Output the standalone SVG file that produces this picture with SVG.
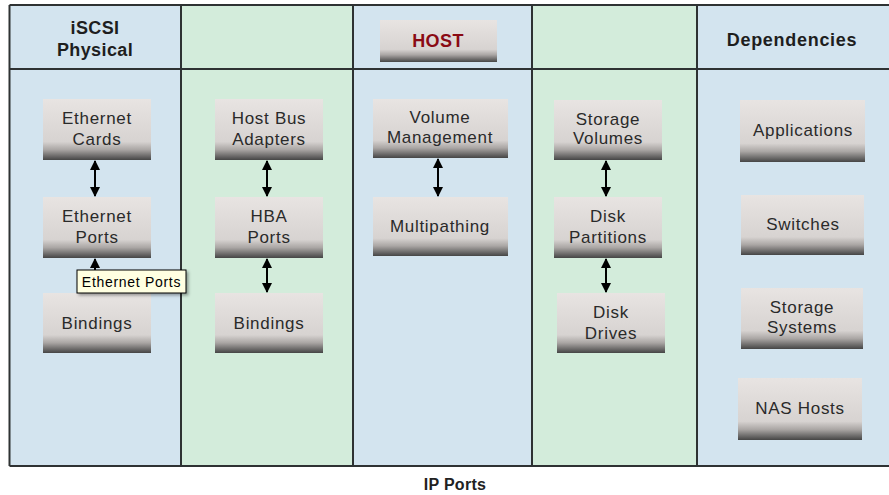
<svg xmlns="http://www.w3.org/2000/svg" width="889" height="495" viewBox="0 0 889 495">
<defs>
<linearGradient id="btn" x1="0" y1="0" x2="0" y2="1">
<stop offset="0" stop-color="#e8e4e2"/>
<stop offset="0.7" stop-color="#d7d3d1"/>
<stop offset="0.83" stop-color="#aaa6a4"/>
<stop offset="1" stop-color="#454545"/>
</linearGradient>
<marker id="ah" viewBox="0 0 10 10" refX="9" refY="5" markerWidth="10" markerHeight="10" markerUnits="userSpaceOnUse" orient="auto-start-reverse">
<path d="M0,0 L10,5 L0,10 z" fill="#000"/>
</marker>
<filter id="sh" x="-10%" y="-10%" width="130%" height="150%">
<feDropShadow dx="2" dy="2" stdDeviation="1.5" flood-color="#000" flood-opacity="0.35"/>
</filter>
</defs>
<style>
.blue{fill:#d3e4ef}
.green{fill:#d3ecdb}
.grid{stroke:#2e3233;stroke-width:2;fill:none}
.box{fill:url(#btn)}
.t{font-family:"Liberation Sans",Arial,sans-serif;font-size:17px;letter-spacing:0.7px;fill:#2a2a2a;text-anchor:middle}
.h{font-family:"Liberation Sans",Arial,sans-serif;font-size:18px;font-weight:bold;letter-spacing:0.4px;fill:#1e1e1e;text-anchor:middle}
.conn{stroke:#000;stroke-width:2;fill:none;marker-start:url(#ah);marker-end:url(#ah)}
</style>
<rect width="889" height="495" fill="#ffffff"/>
<g id="table">
<rect class="blue" x="9.5" y="5" width="171.5" height="461"/>
<rect class="green" x="181" y="5" width="172" height="461"/>
<rect class="blue" x="353" y="5" width="179" height="461"/>
<rect class="green" x="532" y="5" width="165" height="461"/>
<rect class="blue" x="697" y="5" width="192" height="461"/>
<path class="grid" d="M9.5,5 H889 M9.5,69 H889 M9.5,466 H889 M9.5,5 V466 M181,5 V466 M353,5 V466 M532,5 V466 M697,5 V466"/>
</g>
<g id="hdr-iscsi">
<text class="h" x="95" y="34">iSCSI</text>
<text class="h" x="95" y="56">Physical</text>
</g>
<g id="hdr-host">
<rect class="box" x="380" y="20" width="117" height="42"/>
<text class="h" x="438" y="47" style="fill:#8a0a14">HOST</text>
</g>
<g id="hdr-dependencies">
<text class="h" x="792" y="46" style="letter-spacing:0.7px">Dependencies</text>
</g>
<g id="ethernet-cards"><rect class="box" x="43" y="99" width="108" height="61"/><text class="t" x="97" y="124">Ethernet</text><text class="t" x="97" y="145">Cards</text></g>
<g id="ethernet-ports"><rect class="box" x="43" y="197" width="108" height="61"/><text class="t" x="97" y="222">Ethernet</text><text class="t" x="97" y="243">Ports</text></g>
<g id="bindings-1"><rect class="box" x="43" y="293" width="108" height="60"/><text class="t" x="97" y="329">Bindings</text></g>
<g id="host-bus-adapters"><rect class="box" x="215" y="99" width="108" height="61"/><text class="t" x="269" y="124">Host Bus</text><text class="t" x="269" y="145">Adapters</text></g>
<g id="hba-ports"><rect class="box" x="215" y="197" width="108" height="61"/><text class="t" x="269" y="222">HBA</text><text class="t" x="269" y="243">Ports</text></g>
<g id="bindings-2"><rect class="box" x="215" y="293" width="108" height="60"/><text class="t" x="269" y="329">Bindings</text></g>
<g id="volume-management"><rect class="box" x="373" y="99" width="135" height="59"/><text class="t" x="440" y="123">Volume</text><text class="t" x="440" y="143">Management</text></g>
<g id="multipathing"><rect class="box" x="373" y="197" width="135" height="59"/><text class="t" x="440" y="232">Multipathing</text></g>
<g id="storage-volumes"><rect class="box" x="554" y="100" width="108" height="60"/><text class="t" x="608" y="125">Storage</text><text class="t" x="608" y="144">Volumes</text></g>
<g id="disk-partitions"><rect class="box" x="554" y="197" width="108" height="61"/><text class="t" x="608" y="222">Disk</text><text class="t" x="608" y="243">Partitions</text></g>
<g id="disk-drives"><rect class="box" x="557" y="293" width="108" height="60"/><text class="t" x="611" y="318">Disk</text><text class="t" x="611" y="339">Drives</text></g>
<g id="applications"><rect class="box" x="740" y="100" width="125" height="62"/><text class="t" x="803" y="136">Applications</text></g>
<g id="switches"><rect class="box" x="741" y="195" width="123" height="60"/><text class="t" x="803" y="230">Switches</text></g>
<g id="storage-systems"><rect class="box" x="741" y="288" width="122" height="61"/><text class="t" x="802" y="313">Storage</text><text class="t" x="802" y="333">Systems</text></g>
<g id="nas-hosts"><rect class="box" x="738" y="378" width="124" height="62"/><text class="t" x="800" y="414">NAS Hosts</text></g>
<g id="connectors">
<line class="conn" x1="95" y1="161" x2="95" y2="196"/>
<line class="conn" x1="95" y1="259" x2="95" y2="292"/>
<line class="conn" x1="267" y1="161" x2="267" y2="196"/>
<line class="conn" x1="267" y1="259" x2="267" y2="292"/>
<line class="conn" x1="438" y1="159" x2="438" y2="196"/>
<line class="conn" x1="606" y1="161" x2="606" y2="196"/>
<line class="conn" x1="606" y1="259" x2="606" y2="292"/>
</g>
<g id="tooltip">
<rect x="77" y="270" width="109" height="23" fill="#ffffe1" stroke="#000" stroke-width="1" filter="url(#sh)"/>
<text x="131.5" y="287" style="font-family:'Liberation Sans',Arial,sans-serif;font-size:14px;letter-spacing:0.7px;fill:#000;text-anchor:middle">Ethernet Ports</text>
</g>
<g id="footer">
<text x="455" y="490" style="font-family:'Liberation Sans',Arial,sans-serif;font-size:16px;font-weight:bold;letter-spacing:0.3px;fill:#222;text-anchor:middle">IP Ports</text>
</g>
</svg>
